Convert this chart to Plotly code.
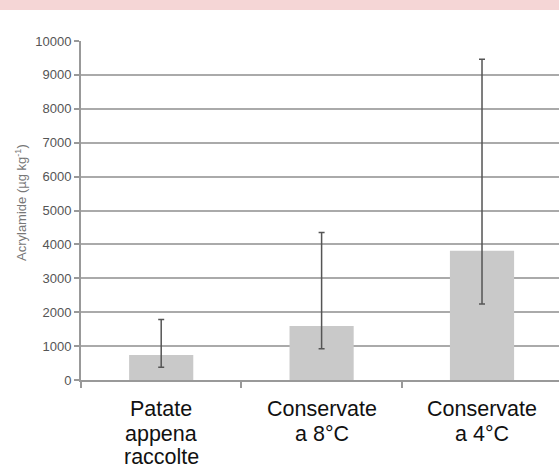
import plotly.graph_objects as go

categories = ["Patate appena raccolte", "Conservate a 8°C", "Conservate a 4°C"]
label_lines = [["Patate", "appena", "raccolte"], ["Conservate", "a 8°C"], ["Conservate", "a 4°C"]]
means = [740, 1590, 3815]
err_high = [1785, 4350, 9460]
err_low = [375, 925, 2240]

plus = [h - m for h, m in zip(err_high, means)]
minus = [m - l for m, l in zip(means, err_low)]

y_ticks = list(range(0, 10001, 1000))
y_ticktext = [str(v) for v in y_ticks]

PLOT_TOP, PLOT_BOT, PLOT_LEFT = 41, 380, 81
PH = PLOT_BOT - PLOT_TOP
PW = 559 - PLOT_LEFT


def py(pix):
    return (PLOT_BOT - pix) / PH


fig = go.Figure()
fig.add_trace(go.Bar(
    x=categories, y=means,
    marker=dict(color="#c9c9c9", line=dict(width=0)),
    width=0.4,
    error_y=dict(type="data", symmetric=False, array=plus, arrayminus=minus,
                 color="#555555", thickness=1.5, width=3),
))

annotations = [dict(text="Acrylamide (µg kg<sup>-1</sup>)", textangle=-90,
                    xref="paper", yref="paper", x=(21 - PLOT_LEFT) / PW, y=py(203),
                    xanchor="center", yanchor="middle", showarrow=False,
                    font=dict(size=13, color="#777777"))]
line_centers = [409, 433.5, 457]
for cat, lines in zip(categories, label_lines):
    for k, line in enumerate(lines):
        annotations.append(dict(text=line, x=cat, xref="x", yref="paper",
                                y=py(line_centers[k]), xanchor="center", yanchor="middle",
                                showarrow=False, font=dict(size=21.5, color="#111111")))

fig.update_layout(
    width=559, height=466,
    margin=dict(l=PLOT_LEFT, r=0, t=PLOT_TOP, b=466 - PLOT_BOT),
    paper_bgcolor="white", plot_bgcolor="white",
    showlegend=False,
    font=dict(family="Arial, Liberation Sans, sans-serif"),
    xaxis=dict(
        range=[-0.5, 2.48],
        tickson="boundaries", ticks="outside", ticklen=6, tickcolor="#999999", tickwidth=1.5,
        showline=True, linecolor="#999999", linewidth=1.5,
        showgrid=False, showticklabels=False,
    ),
    yaxis=dict(
        range=[0, 10000], tickvals=y_ticks, ticktext=y_ticktext,
        ticks="outside", ticklen=5, tickcolor="#999999", tickwidth=1.5,
        showline=True, linecolor="#999999", linewidth=2,
        showgrid=True, gridcolor="#aaaaaa", gridwidth=1.5,
        zeroline=False,
        tickfont=dict(size=13, color="#555555"),
    ),
    shapes=[dict(type="rect", xref="paper", yref="paper",
                 x0=-PLOT_LEFT / PW, x1=1.0, y0=py(10), y1=py(0),
                 fillcolor="#f5d6d6", line=dict(width=0), layer="above")],
    annotations=annotations,
)

fig.write_html("out.html", config={"displayModeBar": False},
               post_script="document.body.style.margin='0';document.body.style.overflow='hidden';")
